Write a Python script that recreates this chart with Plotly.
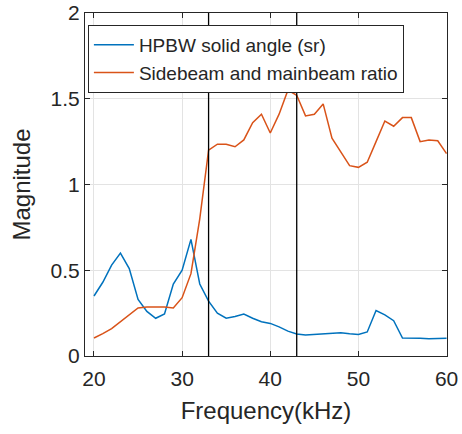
import plotly.graph_objects as go

freq_khz = list(range(20, 61))

hpbw_solid_angle = [
    0.35, 0.43, 0.53, 0.60, 0.51, 0.33, 0.26, 0.22, 0.245, 0.42,
    0.50, 0.68, 0.42, 0.32, 0.25, 0.22, 0.23, 0.245, 0.22, 0.20,
    0.19, 0.17, 0.145, 0.128, 0.122, 0.125, 0.13, 0.134, 0.136, 0.13,
    0.126, 0.14, 0.265, 0.24, 0.206, 0.105, 0.105, 0.103, 0.10, 0.10,
    0.103,
]

side_main_ratio = [
    0.105, 0.13, 0.16, 0.20, 0.24, 0.28, 0.285, 0.285, 0.285, 0.28,
    0.34, 0.48, 0.80, 1.20, 1.235, 1.235, 1.22, 1.26, 1.36, 1.41,
    1.30, 1.41, 1.55, 1.52, 1.40, 1.41, 1.47, 1.27, 1.19, 1.11,
    1.10, 1.13, 1.25, 1.37, 1.34, 1.39, 1.39, 1.25, 1.26, 1.255,
    1.18,
]

marker_freqs = [33, 43]

x_ticks = [20, 30, 40, 50, 60]
y_ticks = [0, 0.5, 1, 1.5, 2]
y_tick_labels = ["0", "0.5", "1", "1.5", "2"]

FONT = "Liberation Sans"
TXT = "#262626"

fig = go.Figure()

fig.add_trace(go.Scatter(
    x=freq_khz, y=hpbw_solid_angle, mode="lines",
    name="HPBW solid angle (sr)",
    line=dict(color="#0072BD", width=1.5),
))
fig.add_trace(go.Scatter(
    x=freq_khz, y=side_main_ratio, mode="lines",
    name="Sidebeam and mainbeam ratio",
    line=dict(color="#D95319", width=1.5),
))

# vertical marker lines
for f in marker_freqs:
    fig.add_shape(type="line", x0=f, x1=f, y0=0, y1=1, xref="x", yref="paper",
                  line=dict(color="black", width=1.3))

axis_style = dict(
    showline=True, linecolor=TXT, linewidth=1, mirror="ticks",
    ticks="inside", ticklen=5, tickcolor=TXT,
    showgrid=True, gridcolor="#E3E3E3", gridwidth=1,
    zeroline=False, automargin=False,
    tickfont=dict(family=FONT, size=21, color=TXT),
)

fig.update_xaxes(
    range=[18.98, 60.05], tickvals=x_ticks, ticklabelstandoff=4,
    title=dict(text="Frequency(kHz)", font=dict(family=FONT, size=24, color=TXT), standoff=12),
    **axis_style,
)
fig.update_yaxes(
    range=[0, 2], tickvals=y_ticks, ticktext=y_tick_labels,
    title=dict(text="Magnitude", font=dict(family=FONT, size=24, color=TXT), standoff=13),
    **axis_style,
)

fig.update_layout(
    width=462, height=434,
    margin=dict(l=85, r=15, t=13, b=78, autoexpand=False),
    plot_bgcolor="white", paper_bgcolor="white",
    legend=dict(
        x=0.008, y=0.965, xanchor="left", yanchor="top",
        bgcolor="white", bordercolor=TXT, borderwidth=1,
        font=dict(family=FONT, size=19, color=TXT),
        tracegroupgap=0, itemwidth=40,
    ),
)

page_fix = (
    "document.documentElement.style.margin='0';"
    "document.body.style.margin='0';"
    "document.documentElement.style.overflow='hidden';"
    "document.body.style.overflow='hidden';"
)
fig.write_html("out.html", config={"displayModeBar": False}, post_script=page_fix)
